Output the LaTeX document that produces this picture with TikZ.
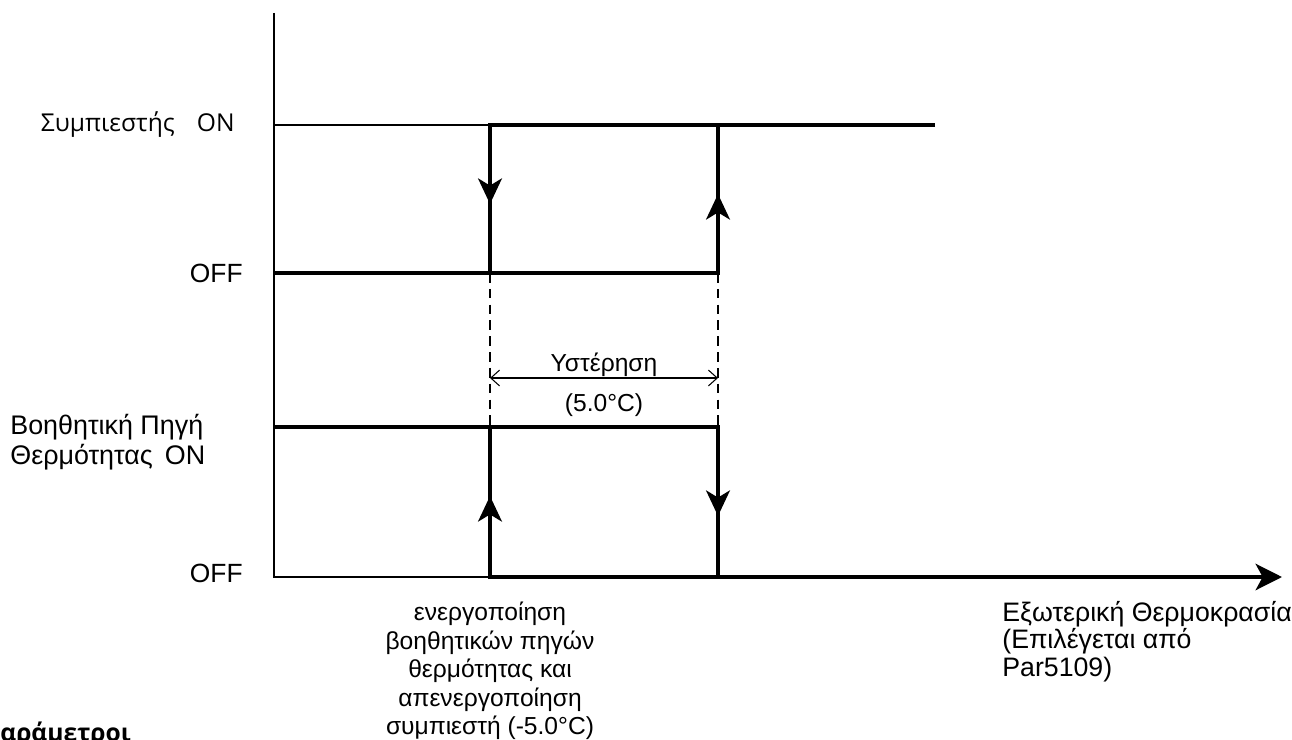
\documentclass[tikz,border=0pt]{standalone}
\usepackage{fontspec}
\setmainfont{Liberation Sans}
\newfontfamily\osans{Open Sans}
\usetikzlibrary{arrows.meta}
\begin{document}
\begin{tikzpicture}[x=0.02cm,y=-0.02cm,
  heavy/.style={line width=2.2pt, line join=miter},
  lightline/.style={line width=0.8pt},
  dimline/.style={line width=0.6pt},
  guide/.style={line width=0.6pt, dash pattern=on 5.5pt off 3.5pt},
  midtip/.style={heavy, -{Stealth[length=14.5pt,width=13.5pt,inset=4pt]}},
  lbl/.style={inner sep=0pt, font=\fontsize{14}{16}\selectfont},
  olbl/.style={inner sep=0pt, font=\osans\fontsize{14}{16}\selectfont}]
\useasboundingbox (0,0) rectangle (1292,740);
% coordinates
\coordinate (O) at (274,577);
\coordinate (Ytop) at (274,13);
\coordinate (Xend) at (1282,577);
\coordinate (cON0) at (274,125);
\coordinate (cA) at (490,125);
\coordinate (cB) at (718,125);
\coordinate (cEnd) at (935,125);
\coordinate (cOFF0) at (274,273);
\coordinate (cC) at (490,273);
\coordinate (cD) at (718,273);
\coordinate (aON0) at (274,427);
\coordinate (aA) at (490,427);
\coordinate (aB) at (718,427);
\coordinate (aC) at (490,577);
\coordinate (aD) at (718,577);
\coordinate (dL) at (490,378);
\coordinate (dR) at (718,378);
% axes
\draw[lightline] (Ytop) -- (O) -- (aC);
\draw[dimline] (cON0) -- (cA);
% compressor
\draw[heavy] (cEnd) -- (cA) -- (cC);
\draw[heavy] (cOFF0) -- (cD) -- (cB);
\draw[midtip] (490,170) -- (490,204);
\draw[midtip] (718,230) -- (718,194);
% auxiliary heat
\draw[heavy] (aON0) -- (aB) -- (aD);
\draw[heavy, -{Stealth[length=15pt,width=15pt,inset=4pt]}] (aA) -- (aC) -- (Xend);
\draw[midtip] (490,530) -- (490,496);
\draw[midtip] (718,470) -- (718,516);
% guides and hysteresis
\draw[guide] (cC) -- (aA);
\draw[guide] (cD) -- (aB);
\draw[dimline, {Straight Barb[length=5pt,width=9pt]}-{Straight Barb[length=5pt,width=9pt]}] (dL) -- (dR);
\node[lbl, anchor=base] (hyst) at (604,371) {Υστέρηση};
\node[lbl, anchor=base] (hystv) at (604,411) {(5.0°C)};
% labels
\node[olbl, anchor=base east] (compon) at (235,132) {Συμπιεστής\hspace{0.9em}ON};
\node[lbl, anchor=base east, font=\fontsize{15}{17}\selectfont] (compoff) at (243,282) {OFF};
\node[lbl, anchor=north west, align=left, font=\fontsize{15.3}{17}\selectfont] (auxon) at (10,414) {Βοηθητική Πηγή\\Θερμότητας\hspace{0.45em}ON};
\node[lbl, anchor=base east, font=\fontsize{15}{17}\selectfont] (auxoff) at (243,582) {OFF};
\node[lbl, anchor=north, align=center, font=\fontsize{14}{16.2}\selectfont] (switch) at (490,602) {ενεργοποίηση\\βοηθητικών πηγών\\θερμότητας και\\απενεργοποίηση\\συμπιεστή (-5.0°C)};
\node[lbl, anchor=north west, align=left, font=\fontsize{15.2}{15.6}\selectfont] (xlabel) at (1002,601) {Εξωτερική Θερμοκρασία\\(Επιλέγεται από\\Par5109)};
\node[inner sep=0pt, anchor=base west, font=\osans\bfseries\fontsize{14}{16}\selectfont] (params) at (0,741) {αράμετροι};
\end{tikzpicture}
\end{document}
